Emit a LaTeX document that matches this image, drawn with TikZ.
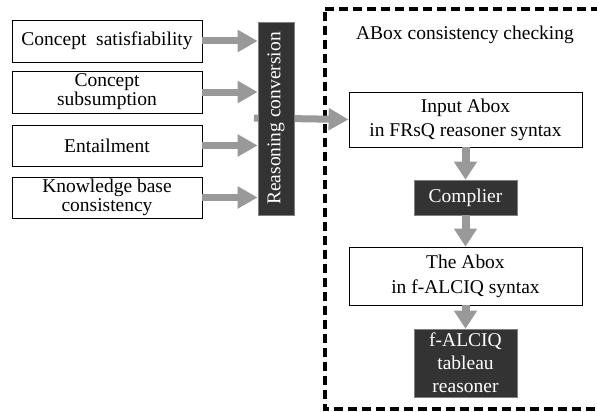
\documentclass[tikz,border=0pt]{standalone}
\usepackage{fontspec}
\setmainfont{Liberation Serif}
\usetikzlibrary{arrows.meta}
\definecolor{darkbox}{HTML}{333333}
\definecolor{arrowgray}{HTML}{999999}
\tikzset{
  whitebox/.style={draw=black, line width=0.8pt, fill=white, align=center, font=\fontsize{19.5}{19}\selectfont, inner sep=0pt},
  blackbox/.style={draw=gray, line width=0.6pt, fill=darkbox, text=white, align=center, font=\fontsize{19.5}{23}\selectfont, inner sep=0pt},
  harrow/.style={draw=arrowgray, line width=7pt, -{Triangle[length=20pt,width=21pt]}},
  varrow/.style={draw=arrowgray, line width=8pt, -{Triangle[length=18pt,width=22pt]}},
}
\begin{document}
\begin{tikzpicture}[x=1pt,y=-1pt]
\useasboundingbox (0,0) rectangle (597,412);
\fill[white] (0,0) rectangle (597,412);
% dashed region
\draw[black, line width=3.4pt, dash pattern=on 9pt off 5pt] (325,9) -- (610,9) -- (610,409) -- (325,409) -- cycle;
\node[font=\fontsize{19.5}{19}\selectfont, anchor=center] (title) at (465,35) {ABox consistency checking};
% left boxes
\node[whitebox, minimum width=190pt, minimum height=42pt] (b1) at (107,41) {Concept\ \ satisfiability};
\node[whitebox, minimum width=190pt, minimum height=42pt] (b2) at (107,92) {Concept\\subsumption};
\node[whitebox, minimum width=190pt, minimum height=41pt] (b3) at (107,145.5) {Entailment};
\node[whitebox, minimum width=190pt, minimum height=41pt] (b4) at (107,197.5) {Knowledge base\\consistency};
% arrow behind the reasoning box
\coordinate (rcstart) at (254,118);
\node[whitebox, minimum width=233pt, minimum height=55pt, font=\fontsize{19.5}{24}\selectfont] (in) at (465.5,119.5) {Input Abox\\in FRsQ reasoner syntax};
\draw[harrow] (rcstart) -- (in.west);
% reasoning conversion
\node[blackbox, minimum width=36pt, minimum height=193pt] (rc) at (276,118.5) {\rotatebox{90}{Reasoning conversion}};
% right boxes
\node[blackbox, minimum width=103pt, minimum height=35pt] (comp) at (465.5,197.5) {Complier};
\node[whitebox, minimum width=233pt, minimum height=58pt, font=\fontsize{19.5}{25}\selectfont] (ab) at (465.5,276) {The Abox\\in f-ALCIQ syntax};
\node[blackbox, minimum width=103pt, minimum height=68pt] (tab) at (465.5,363) {f-ALCIQ\\tableau\\reasoner};
% arrows
\draw[harrow] (b1.east) -- (b1.east -| rc.west);
\draw[harrow] (b2.east) -- (b2.east -| rc.west);
\draw[harrow] (b3.east) -- (b3.east -| rc.west);
\draw[harrow] (b4.east) -- (b4.east -| rc.west);
\draw[varrow] (in.south) -- (comp.north);
\draw[varrow] (comp.south) -- (ab.north);
\draw[varrow] (ab.south) -- (tab.north);
\end{tikzpicture}
\end{document}
